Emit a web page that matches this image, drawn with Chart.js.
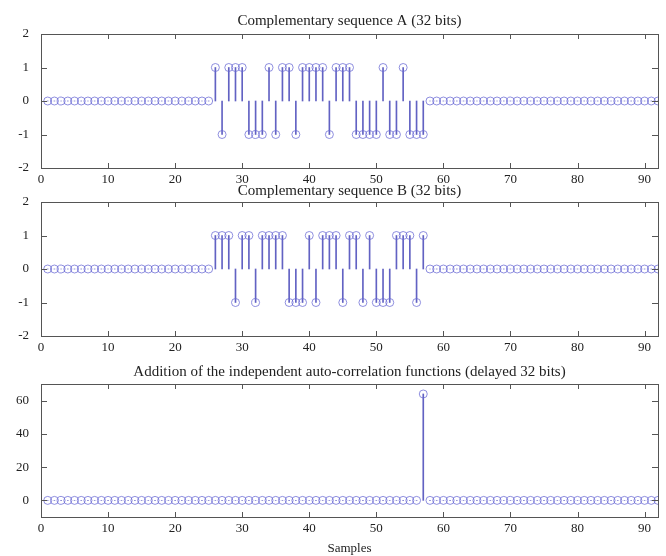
<!DOCTYPE html>
<html lang="en">
<head>
  <meta charset="UTF-8">
  <title>Complementary sequences</title>
  <style>
    body {
      margin: 0;
      background: #fff;
    }
    .panel {
      position: absolute;
      left: 0;
    }
  </style>
</head>
<body>
  <canvas id="chartA" class="panel" width="666" height="190" style="top:0px"></canvas>
  <canvas id="chartB" class="panel" width="666" height="190" style="top:168px"></canvas>
  <canvas id="chartC" class="panel" width="666" height="204" style="top:352px"></canvas>

  <script src="https://cdn.jsdelivr.net/npm/chart.js"></script>
  <script>
    // sample index 1..92
    const samples = Array.from({ length: 92 }, (_, i) => i + 1);

    const seqA = [
      0, 0, 0, 0, 0, 0, 0, 0, 0, 0,
      0, 0, 0, 0, 0, 0, 0, 0, 0, 0,
      0, 0, 0, 0, 0, 1, -1, 1, 1, 1,
      -1, -1, -1, 1, -1, 1, 1, -1, 1, 1,
      1, 1, -1, 1, 1, 1, -1, -1, -1, -1,
      1, -1, -1, 1, -1, -1, -1, 0, 0, 0,
      0, 0, 0, 0, 0, 0, 0, 0, 0, 0,
      0, 0, 0, 0, 0, 0, 0, 0, 0, 0,
      0, 0, 0, 0, 0, 0, 0, 0, 0, 0,
      0, 0
    ];

    const seqB = [
      0, 0, 0, 0, 0, 0, 0, 0, 0, 0,
      0, 0, 0, 0, 0, 0, 0, 0, 0, 0,
      0, 0, 0, 0, 0, 1, 1, 1, -1, 1,
      1, -1, 1, 1, 1, 1, -1, -1, -1, 1,
      -1, 1, 1, 1, -1, 1, 1, -1, 1, -1,
      -1, -1, 1, 1, 1, -1, 1, 0, 0, 0,
      0, 0, 0, 0, 0, 0, 0, 0, 0, 0,
      0, 0, 0, 0, 0, 0, 0, 0, 0, 0,
      0, 0, 0, 0, 0, 0, 0, 0, 0, 0,
      0, 0
    ];

    const corrSum = [
      0, 0, 0, 0, 0, 0, 0, 0, 0, 0,
      0, 0, 0, 0, 0, 0, 0, 0, 0, 0,
      0, 0, 0, 0, 0, 0, 0, 0, 0, 0,
      0, 0, 0, 0, 0, 0, 0, 0, 0, 0,
      0, 0, 0, 0, 0, 0, 0, 0, 0, 0,
      0, 0, 0, 0, 0, 0, 64, 0, 0, 0,
      0, 0, 0, 0, 0, 0, 0, 0, 0, 0,
      0, 0, 0, 0, 0, 0, 0, 0, 0, 0,
      0, 0, 0, 0, 0, 0, 0, 0, 0, 0,
      0, 0
    ];

    const xTicks = [0, 10, 20, 30, 40, 50, 60, 70, 80, 90];
    const yTicksSeq = [-2, -1, 0, 1, 2];
    const yTicksCorr = [0, 20, 40, 60];

    const titleA = 'Complementary sequence A (32 bits)';
    const titleB = 'Complementary sequence B (32 bits)';
    const titleC = 'Addition of the independent auto-correlation functions (delayed 32 bits)';

    const stemColor = 'rgba(70, 70, 185, 0.85)';
    const markColor = 'rgba(105, 105, 212, 0.75)';
    const fontFam = "'Liberation Serif', 'DejaVu Serif', serif";

    // box + inward ticks on every side, like matlab
    const boxTicks = {
      id: 'boxTicks',
      afterDatasetsDraw(chart) {
        const { ctx, chartArea: a, scales: { x, y } } = chart;
        ctx.save();
        ctx.strokeStyle = '#555';
        ctx.lineWidth = 1;
        ctx.strokeRect(Math.round(a.left) + 0.5, Math.round(a.top) + 0.5,
          Math.round(a.right - a.left), Math.round(a.bottom - a.top));
        ctx.beginPath();
        x.ticks.forEach(t => {
          const px = Math.round(x.getPixelForValue(t.value)) + 0.5;
          ctx.moveTo(px, a.bottom); ctx.lineTo(px, a.bottom - 5);
          ctx.moveTo(px, a.top); ctx.lineTo(px, a.top + 5);
        });
        y.ticks.forEach(t => {
          const py = Math.round(y.getPixelForValue(t.value)) + 0.5;
          ctx.moveTo(a.left, py); ctx.lineTo(a.left + 6, py);
          ctx.moveTo(a.right, py); ctx.lineTo(a.right - 6, py);
        });
        ctx.stroke();
        ctx.restore();
      }
    };

    function makeStem(id, values, title, yMin, yMax, yTicks, titlePad, xHeight, xTitle) {
      const pts = samples.map((s, i) => ({ x: s, y: values[i] }));
      new Chart(document.getElementById(id), {
        type: 'bar',
        data: {
          datasets: [
            {
              type: 'line',
              data: pts,
              showLine: false,
              pointStyle: 'circle',
              pointRadius: 4,
              pointBorderWidth: 1,
              pointBorderColor: markColor,
              pointBackgroundColor: 'rgba(255,255,255,0)',
              order: 1
            },
            {
              type: 'bar',
              data: pts,
              backgroundColor: stemColor,
              barThickness: 1,
              order: 2
            }
          ]
        },
        options: {
          responsive: false,
          animation: false,
          devicePixelRatio: 1,
          layout: { padding: { left: 0, right: 8, top: 0, bottom: 0 } },
          plugins: {
            legend: { display: false },
            tooltip: { enabled: false },
            title: {
              display: true,
              fullSize: false,
              text: title,
              color: '#222',
              font: { family: fontFam, size: 15, weight: 'normal' },
              padding: titlePad
            }
          },
          scales: {
            x: {
              type: 'linear',
              offset: false,
              min: 0,
              max: 92,
              grid: { display: false, offset: false },
              border: { display: false },
              afterBuildTicks: s => { s.ticks = xTicks.map(v => ({ value: v })); },
              afterFit: s => { s.height = xHeight; },
              ticks: {
                color: '#222',
                padding: -4,
                maxRotation: 0,
                autoSkip: false,
                font: { family: fontFam, size: 13 }
              },
              title: {
                display: !!xTitle,
                text: xTitle || '',
                color: '#222',
                padding: { top: 0, bottom: 0 },
                font: { family: fontFam, size: 13 }
              }
            },
            y: {
              min: yMin,
              max: yMax,
              grid: { display: false },
              border: { display: false },
              afterBuildTicks: s => { s.ticks = yTicks.map(v => ({ value: v })); },
              afterFit: s => { s.width = 41; },
              ticks: {
                color: '#222',
                padding: 4,
                font: { family: fontFam, size: 13 }
              }
            }
          }
        },
        plugins: [boxTicks]
      });
    }

    makeStem('chartA', seqA, titleA, -2, 2, yTicksSeq, { top: 12, bottom: 4 }, 22);
    makeStem('chartB', seqB, titleB, -2, 2, yTicksSeq, { top: 14, bottom: 2 }, 22);
    makeStem('chartC', corrSum, titleC, -10, 70, yTicksCorr, { top: 11, bottom: 3 }, 39, 'Samples');
  </script>
</body>
</html>
